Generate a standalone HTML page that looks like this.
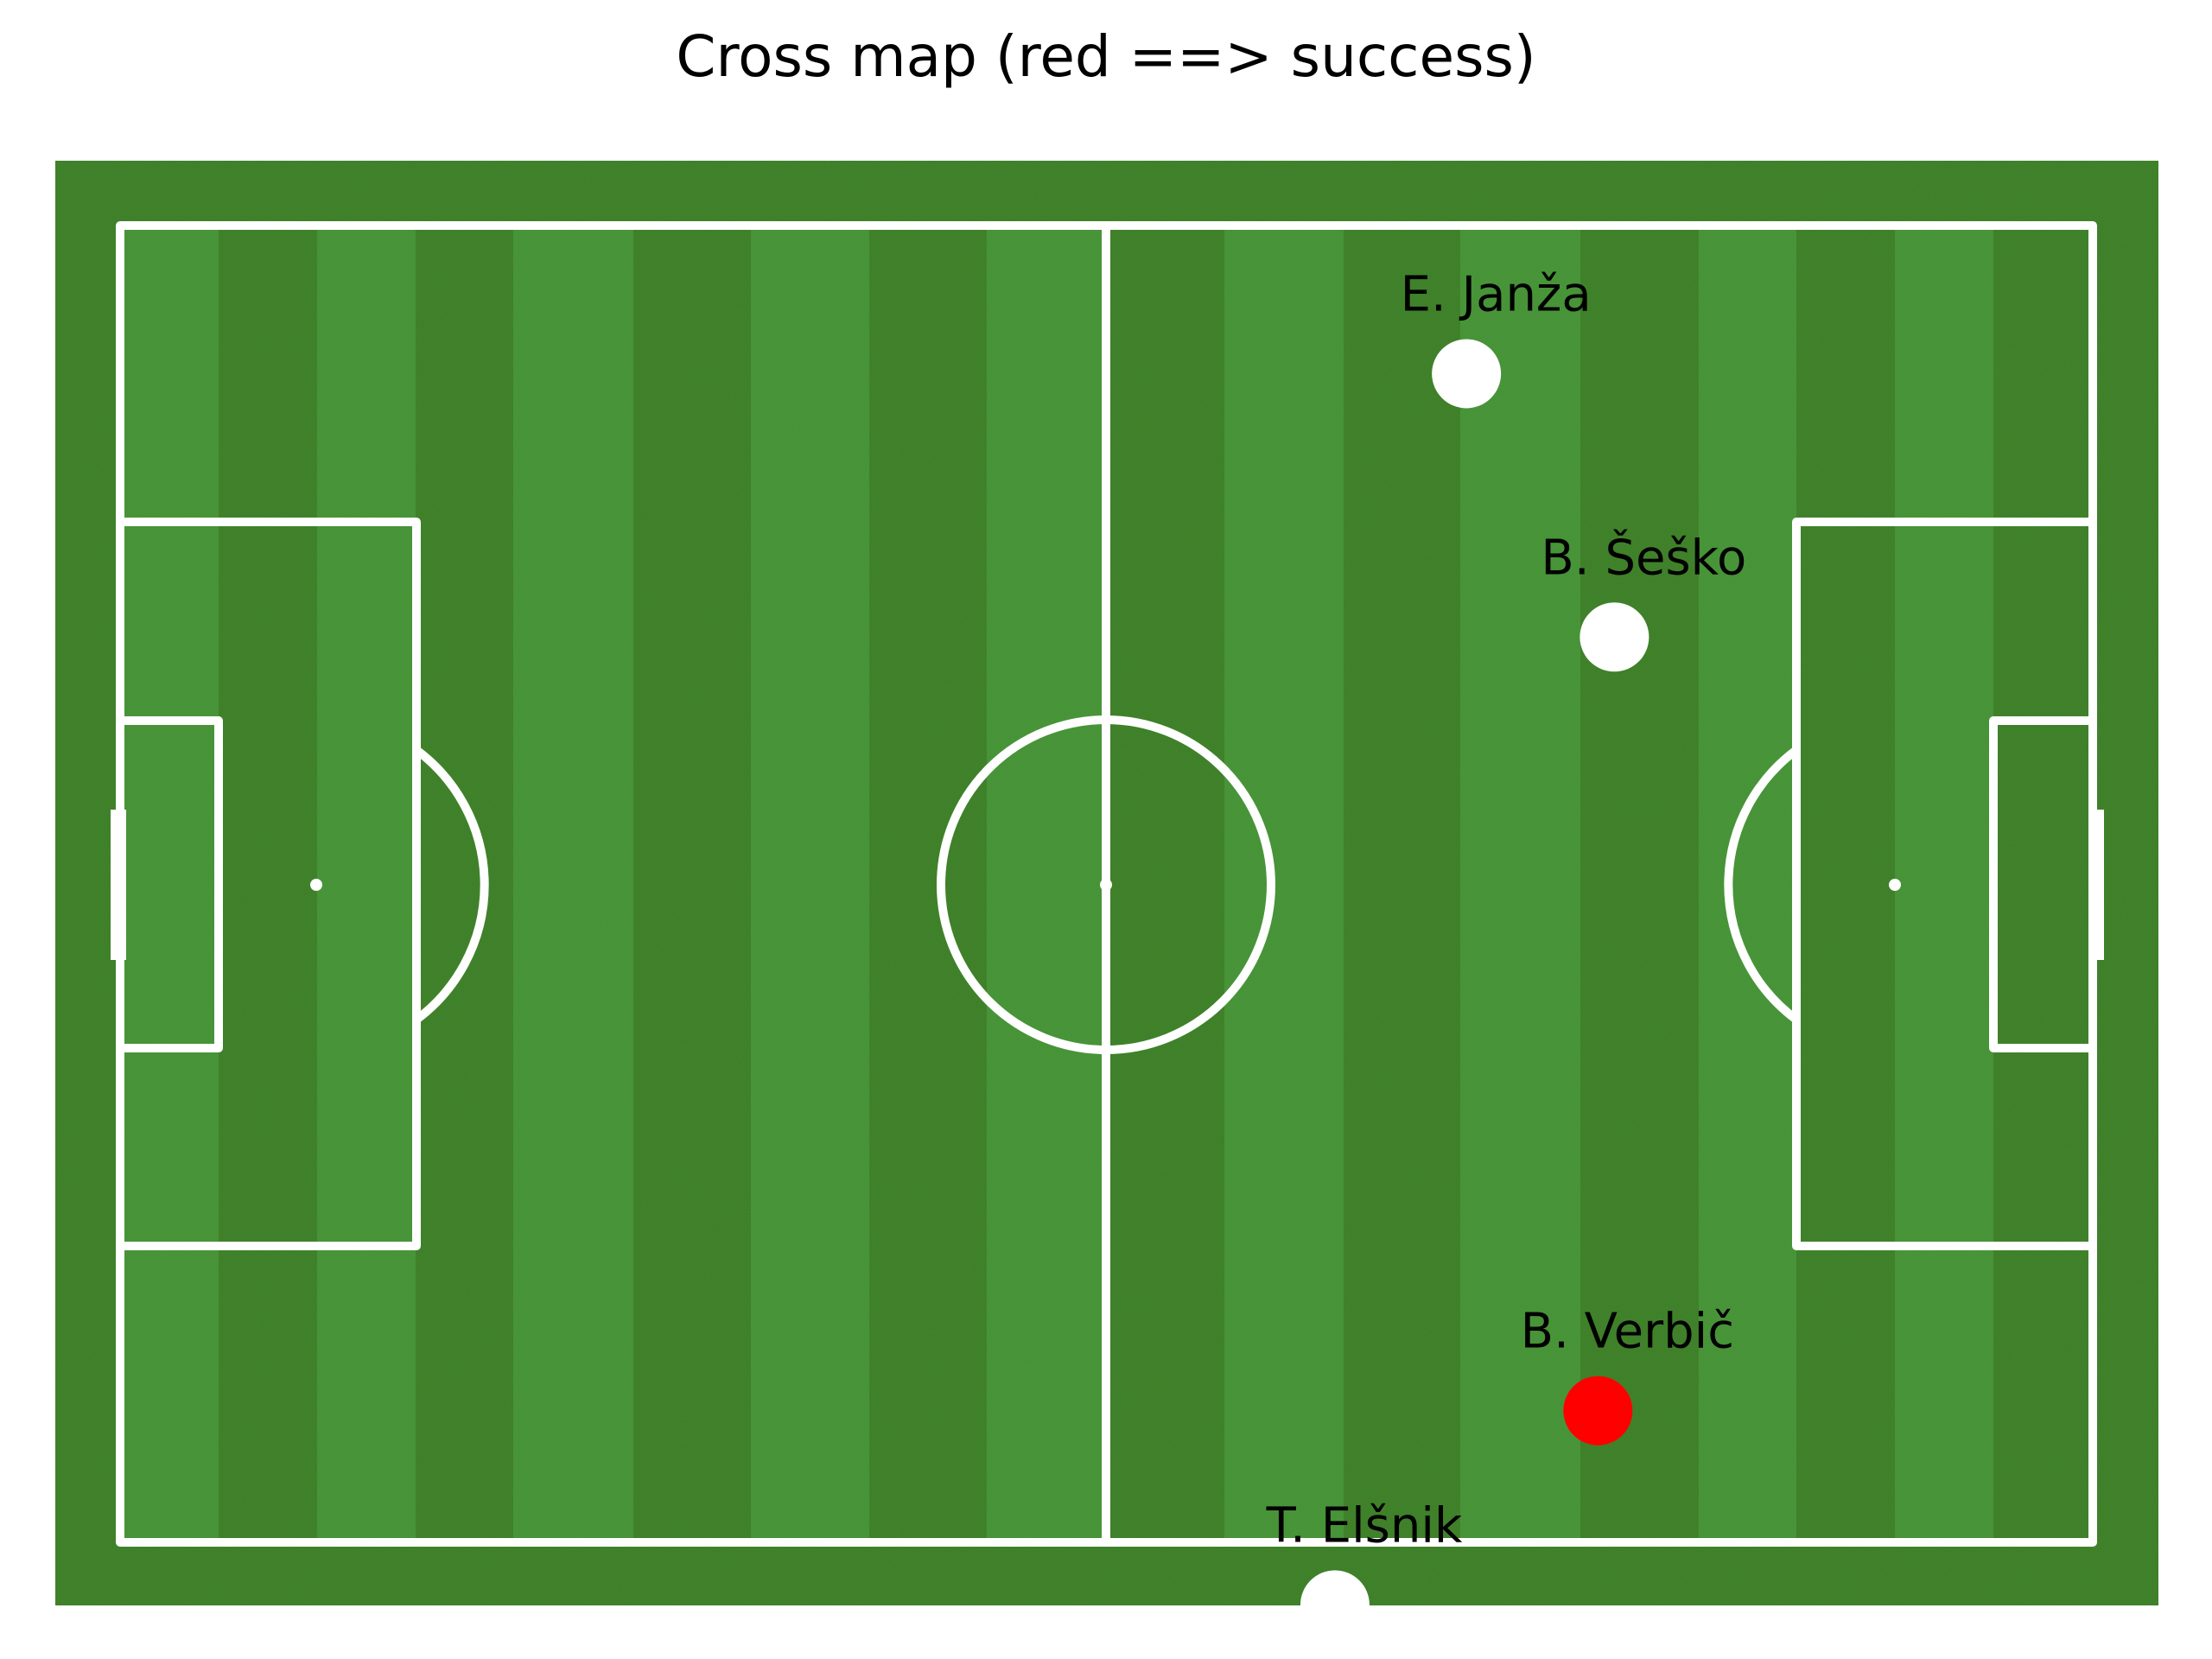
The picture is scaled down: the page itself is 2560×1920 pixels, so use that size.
<!DOCTYPE html>
<html><head><meta charset="utf-8"><style>
html,body{margin:0;padding:0;background:#fff;}
svg{display:block;font-family:"DejaVu Sans","Liberation Sans",sans-serif;}
</style></head><body>
<svg id="chart" width="2560" height="1920" viewBox="0 0 2560 1920" xmlns="http://www.w3.org/2000/svg">
<defs>
<clipPath id="bgclip"><rect x="64" y="186" width="2434" height="1672"/></clipPath>
<filter id="grain" x="0" y="0" width="100%" height="100%">
<feTurbulence type="fractalNoise" baseFrequency="0.9" numOctaves="1" seed="3" result="n"/>
<feColorMatrix in="n" type="matrix" values="0 0 0 0 0  0 0 0 0 0  0 0 0 0 0  0 0 0 0.12 0" result="g"/>
<feComposite in="g" in2="SourceGraphic" operator="in" result="gg"/>
<feMerge><feMergeNode in="SourceGraphic"/><feMergeNode in="gg"/></feMerge>
</filter>
</defs>
<text x="1280" y="88" text-anchor="middle" font-size="66" fill="#000">Cross map (red ==&gt; success)</text>
<g id="pitch"></g>
<g id="lines" fill="none" stroke="#fff" stroke-width="10" stroke-linejoin="round"></g>
<g id="points" clip-path="url(#bgclip)"></g>
<g id="labels"></g>
</svg>
<script>
const players = ["E. Janža", "B. Šeško", "B. Verbič", "T. Elšnik"];
const crossX = [81.9, 90.9, 89.9, 73.9];
const crossY = [9.0, 25.0, 72.0, 83.8];
const success = [false, false, true, false];

const NS = "http://www.w3.org/2000/svg";
const X0 = 139, X1 = 2422, Y0 = 261, Y1 = 1785;
const sx = v => X0 + v * (X1 - X0) / 120;
const sy = v => Y0 + v * (Y1 - Y0) / 80;
function mk(tag, attrs, parent) {
  const e = document.createElementNS(NS, tag);
  for (const k in attrs) e.setAttribute(k, attrs[k]);
  parent.appendChild(e);
  return e;
}
const pitch = document.getElementById('pitch');
const LIGHT = "#4b983b", DARK = "#42852d";
const bg = mk('rect', {x: 64, y: 186, width: 2434, height: 1672, fill: DARK, filter: "url(#grain)"}, pitch);


const bounds = [139, 253, 367, 481, 594, 733, 869, 1006, 1142, 1280, 1417, 1555, 1690, 1829, 1966, 2079, 2193, 2307, 2422];
for (let i = 0; i < bounds.length - 1; i++) {
  const r = mk('rect', {x: bounds[i], y: 261, width: bounds[i+1] - bounds[i], height: 1524, fill: i % 2 === 0 ? LIGHT : DARK, filter: "url(#grain)"}, pitch);
  
  
}
const L = document.getElementById('lines');
const lineEls = [
  ['rect', {x: 139, y: 261, width: 2283, height: 1524}, 'touchline-boundary'],
  ['line', {x1: 1280, y1: 261, x2: 1280, y2: 1785}, 'halfway-line'],
  ['circle', {cx: 1280, cy: 1024, r: 191}, 'centre-circle'],
  ['rect', {x: 139, y: 604, width: 343, height: 838}, 'left-penalty-box'],
  ['rect', {x: 139, y: 834, width: 114, height: 379}, 'left-six-yard-box'],
  ['rect', {x: 2079, y: 604, width: 343, height: 838}, 'right-penalty-box'],
  ['rect', {x: 2307, y: 834, width: 115, height: 379}, 'right-six-yard-box'],
  ['path', {d: "M482 868 A194 194 0 0 1 482 1180"}, 'left-penalty-arc'],
  ['path', {d: "M2079 868 A194 194 0 0 0 2079 1180"}, 'right-penalty-arc']
];
lineEls.forEach(([t, a, n]) => {
  const e = mk(t, a, L);
  
  
});
[[366,1024,'left-penalty-spot'],[1280,1024,'centre-spot'],[2193,1024,'right-penalty-spot']].forEach(([x,y,n]) => {
  const e = mk('circle', {cx: x, cy: y, r: 7, fill: '#fff', stroke: 'none'}, L);
  
  
});
[[128,'left-goal'],[2417,'right-goal']].forEach(([x,n]) => {
  const e = mk('rect', {x: x, y: 937, width: 18, height: 174, fill: '#fff', stroke: 'none'}, L);
  
  
});
const P = document.getElementById('points');
const T = document.getElementById('labels');
players.forEach((name, i) => {
  const cx = sx(crossX[i]), cy = sy(crossY[i]);
  const c = mk('circle', {cx: cx, cy: cy, r: 40, fill: success[i] ? '#ff0000' : '#ffffff'}, P);
  
  
  const t = mk('text', {x: cx + 34, y: cy - 73, 'text-anchor': 'middle', 'font-size': 56, fill: '#000'}, T);
  t.textContent = name;
  
  
});
</script>
</body></html>
